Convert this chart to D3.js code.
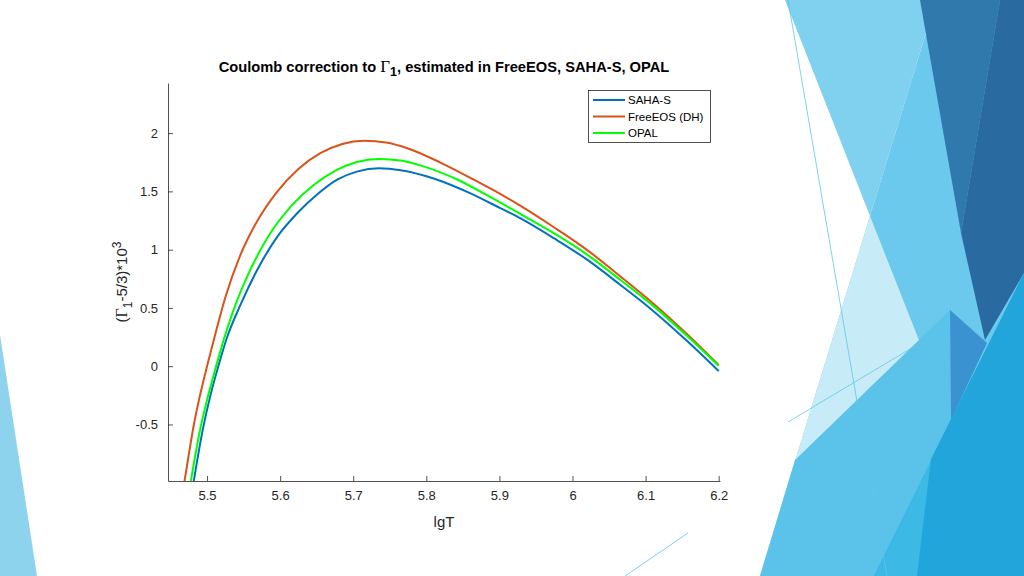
<!DOCTYPE html>
<html>
<head>
<meta charset="utf-8">
<script src="https://cdn.jsdelivr.net/npm/d3@7"></script>
<style>
  html, body { margin: 0; padding: 0; background: #ffffff; }
  svg { display: block; }
</style>
</head>
<body>
<svg id="chart" width="1024" height="576"></svg>
<script>
// ---------------- data ----------------
const sahaS_lgT = [5.475, 5.482, 5.494, 5.505, 5.515, 5.527, 5.546, 5.569, 5.596, 5.623, 5.651, 5.678,
                   5.706, 5.735, 5.765, 5.81, 5.856, 5.902, 5.929, 5.975, 6.021, 6.066, 6.112, 6.158, 6.2];
const sahaS = [-1.25, -0.98, -0.55, -0.24, -0.01, 0.24, 0.53, 0.83, 1.11, 1.31, 1.475, 1.60,
               1.672, 1.698, 1.682, 1.611, 1.496, 1.354, 1.268, 1.096, 0.910, 0.695, 0.466, 0.209, -0.042];
const freeEOS_lgT = [5.465, 5.475, 5.482, 5.49, 5.5, 5.51, 5.525, 5.545, 5.565, 5.595, 5.625, 5.655, 5.685,
                     5.715, 5.745, 5.775, 5.82, 5.865, 5.895, 5.929, 5.975, 6.021, 6.066, 6.112, 6.158, 6.2];
const freeEOS = [-1.15, -0.76, -0.5, -0.26, 0.0, 0.245, 0.59, 0.945, 1.205, 1.49, 1.6925, 1.8275, 1.907,
                 1.934, 1.919, 1.868, 1.745, 1.60, 1.50, 1.375, 1.19, 0.992, 0.768, 0.530, 0.268, 0.01];
const opal_lgT = [5.47, 5.478, 5.49, 5.501, 5.512, 5.523, 5.535, 5.555, 5.585, 5.615, 5.645, 5.675,
                  5.705, 5.735, 5.765, 5.795, 5.843, 5.888, 5.929, 5.975, 6.021, 6.066, 6.112, 6.158, 6.2];
const opal = [-1.29, -0.98, -0.56, -0.265, -0.01, 0.23, 0.46, 0.77, 1.125, 1.373, 1.55, 1.676,
              1.7525, 1.778, 1.765, 1.717, 1.60, 1.45, 1.305, 1.139, 0.953, 0.738, 0.509, 0.252, 0.003];
const seriesNames = ["SAHA-S", "FreeEOS (DH)", "OPAL"];
const seriesColors = ["#0072BD", "#D95319", "#00FF00"];
const xTicks = [5.5, 5.6, 5.7, 5.8, 5.9, 6.0, 6.1, 6.2];
const yTicks = [-0.5, 0, 0.5, 1, 1.5, 2];
const xDomain = [5.4466, 6.2018];
const yDomain = [-0.985, 2.43];

// ---------------- decoration (slide background) ----------------
const svg = d3.select("#chart");
const deco = svg.append("g");
const polys = [
  {c: "#6AC9EC", p: [[936,0],[1024,0],[1024,576],[760,576]]},
  {c: "#80D0EF", p: [[785,0],[936,0],[870,216]]},
  {c: "#C8EBF8", p: [[870,216],[1012,576],[760,576]]},
  {c: "#5BC3EA", p: [[950,310],[795,460],[760,576],[873,576],[951,420]]},
  {c: "#3A93D0", p: [[950,310],[987,343],[951,420]]},
  {c: "#2F79AC", p: [[920,0],[1000,0],[961,233]]},
  {c: "#296AA1", p: [[1000,0],[1024,0],[1024,273],[985,340],[961,233]]},
  {c: "#3CB9E4", p: [[1024,273],[1024,576],[873,576]]},
  {c: "#22A5DB", p: [[1024,273],[1024,576],[917,576],[931,459]]},
  {c: "#8DD3EE", p: [[0,335],[0,576],[37,576]]}
];
deco.selectAll("polygon").data(polys).join("polygon")
  .attr("points", d => d.p.map(q => q.join(",")).join(" "))
  .attr("fill", d => d.c);
const thin = [
  [[788,0],[887,576]],
  [[788,422],[920,343]],
  [[625,576],[688,533]]
];
deco.selectAll("line.thin").data(thin).join("line").attr("class","thin")
  .attr("x1", d => d[0][0]).attr("y1", d => d[0][1])
  .attr("x2", d => d[1][0]).attr("y2", d => d[1][1])
  .attr("stroke", "#5CC6EA").attr("stroke-width", 0.8);

// ---------------- chart ----------------
const pLeft = 168, pRight = 720, pTop = 83, pBottom = 481;
const x = d3.scaleLinear().domain(xDomain).range([pLeft, pRight]);
const y = d3.scaleLinear().domain(yDomain).range([pBottom, pTop]);
const axisColor = "#262626";
const font = "'Liberation Sans', Arial, Helvetica, sans-serif";

svg.append("clipPath").attr("id", "plotclip")
  .append("rect").attr("x", pLeft).attr("y", pTop).attr("width", pRight - pLeft).attr("height", pBottom - pTop);

const fmt = d => String(+d.toFixed(2));
const xAxis = d3.axisBottom(x).tickValues(xTicks).tickFormat(fmt).tickSizeInner(-5).tickSizeOuter(0).tickPadding(10);
const yAxis = d3.axisLeft(y).tickValues(yTicks).tickFormat(fmt).tickSizeInner(-5).tickSizeOuter(0).tickPadding(10);

const gx = svg.append("g").attr("transform", `translate(0,${pBottom})`).call(xAxis);
const gy = svg.append("g").attr("transform", `translate(${pLeft},0)`).call(yAxis);
[gx, gy].forEach(g => {
  g.select(".domain").attr("stroke", axisColor).attr("stroke-width", 0.8);
  g.selectAll(".tick line").attr("stroke", axisColor).attr("stroke-width", 0.8);
  g.selectAll(".tick text").attr("fill", axisColor).style("font-family", font).style("font-size", "13px");
});

// lines
const series = [[sahaS_lgT, sahaS], [freeEOS_lgT, freeEOS], [opal_lgT, opal]];
const lineGen = d3.line().x(d => x(d[0])).y(d => y(d[1])).curve(d3.curveMonotoneX);
const gl = svg.append("g").attr("clip-path", "url(#plotclip)");
series.forEach(([xs, vals], i) => {
  gl.append("path")
    .datum(xs.map((t, j) => [t, vals[j]]))
    .attr("d", lineGen)
    .attr("fill", "none")
    .attr("stroke", seriesColors[i])
    .attr("stroke-width", 2);
});

// title
const title = svg.append("text").attr("x", (pLeft + pRight) / 2).attr("y", 72)
  .attr("text-anchor", "middle").style("font-family", font).style("font-size", "14.7px")
  .style("font-weight", "bold").attr("fill", "#000");
title.append("tspan").text("Coulomb correction to ");
title.append("tspan").text("Γ").style("font-family", "'Liberation Serif', 'Times New Roman', serif").style("font-weight", "normal").style("font-size", "17px");
title.append("tspan").text("1").attr("dy", 4).style("font-size", "12.5px");
title.append("tspan").text(", estimated in FreeEOS, SAHA-S, OPAL").attr("dy", -4);

// x label
svg.append("text").attr("x", (pLeft + pRight) / 2).attr("y", 527)
  .attr("text-anchor", "middle").style("font-family", font).style("font-size", "15px")
  .attr("fill", axisColor).text("lgT");

// y label
const yl = svg.append("text").attr("transform", `translate(127,${(pTop + pBottom) / 2}) rotate(-90)`)
  .attr("text-anchor", "middle").style("font-family", font).style("font-size", "15px").attr("fill", axisColor);
yl.append("tspan").text("(");
yl.append("tspan").text("Γ").style("font-family", "'Liberation Serif', 'Times New Roman', serif").style("font-size", "16px");
yl.append("tspan").text("1").attr("dy", 5).style("font-size", "12px");
yl.append("tspan").text("-5/3)*10").attr("dy", -5);
yl.append("tspan").text("3").attr("dy", -6).style("font-size", "12px");

// legend
const lg = svg.append("g");
lg.append("rect").attr("x", 588.5).attr("y", 90.5).attr("width", 122).attr("height", 52)
  .attr("fill", "#fff").attr("stroke", axisColor).attr("stroke-width", 0.8);
seriesNames.forEach((n, i) => {
  const yy = 100 + i * 16.5;
  lg.append("line").attr("x1", 593).attr("x2", 625).attr("y1", yy).attr("y2", yy)
    .attr("stroke", seriesColors[i]).attr("stroke-width", 2);
  lg.append("text").attr("x", 628).attr("y", yy + 4).style("font-family", font)
    .style("font-size", "11.5px").attr("fill", "#000").text(n);
});
</script>
</body>
</html>
